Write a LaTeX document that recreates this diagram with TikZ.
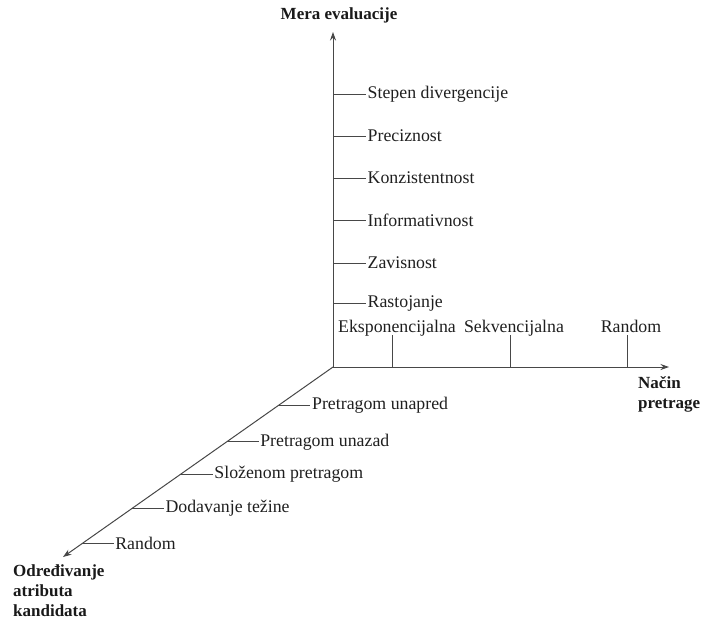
\documentclass[tikz,border=0pt]{standalone}
\usepackage{fontspec}
\setmainfont{Liberation Serif}
\usetikzlibrary{arrows.meta,calc}
\begin{document}
\begin{tikzpicture}[x=1pt,y=-1pt,
  axis/.style={draw=black!72,line width=1pt,-{Stealth[length=8.5pt,width=6pt]}},
  tick/.style={draw=black!72,line width=0.9pt},
  lbl/.style={font=\fontsize{17.8}{20}\selectfont,text=black!88,inner sep=1.5pt},
  ttl/.style={font=\fontsize{17}{20}\selectfont\bfseries,text=black!90,inner sep=0pt,align=left}]
\useasboundingbox (0,0) rectangle (703,619);
\coordinate (O) at (333,367);
\coordinate (Ytop) at (333,32);
\coordinate (Xend) at (669,367);
\coordinate (Zend) at (63,557);
\draw[axis] (O) -- (Ytop);
\draw[axis] (O) -- (Xend);
\draw[axis] (O) -- (Zend);
% titles
\node[ttl,anchor=south] (my) at (339,23) {Mera evaluacije};
\node[ttl,anchor=north west] (np) at (638,376) {Način\\pretrage};
\node[ttl,anchor=north west] (oa) at (13,564) {Određivanje\\atributa\\kandidata};
% vertical axis labels
\foreach \y/\t/\n in {94/Stepen divergencije/v1,136/Preciznost/v2,178/Konzistentnost/v3,220/Informativnost/v4,263/Zavisnost/v5,303/Rastojanje/v6}{
  \node[lbl,anchor=west] (\n) at (366,\y) {\t};
  \draw[tick] (\n.west -| O) -- (\n.west);
}
% horizontal axis labels
\foreach \x/\c/\t/\n in {392/397/Eksponencijalna/h1,510/514/Sekvencijalna/h2,627/631/Random/h3}{
  \coordinate (\n b) at (\x,367);
  \node[lbl,anchor=base] (\n) at (\c,332) {\t};
  \draw[tick] (\n b) -- ++(0,-32);
}
% diagonal axis labels
\foreach \f/\t/\n in {0.202/Pretragom unapred/d1,0.394/Pretragom unazad/d2,0.564/Složenom pretragom/d3,0.745/Dodavanje težine/d4,0.931/Random/d5}{
  \coordinate (\n c) at ($(O)!\f!(Zend)$);
  \node[lbl,anchor=west] (\n) at ([xshift=32pt]\n c) {\t};
  \draw[tick] (\n c) -- (\n.west);
}
\end{tikzpicture}
\end{document}
